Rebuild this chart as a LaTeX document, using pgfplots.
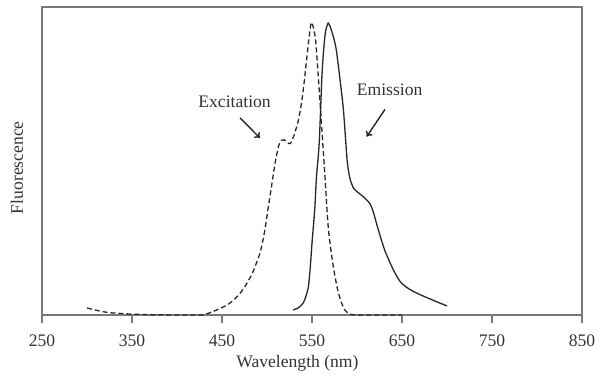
\documentclass[border=0pt]{standalone}
\usepackage{fontspec}
\setmainfont{Liberation Serif}
\usepackage{pgfplots}
\pgfplotsset{compat=1.18}
\usetikzlibrary{arrows.meta}
\definecolor{framegray}{HTML}{7A7A7A}
\definecolor{txt}{HTML}{333333}
\begin{document}
\fontsize{8.8}{10.5}\selectfont
\begin{tikzpicture}
\useasboundingbox (-21pt,-31.5pt) rectangle (279pt,157.5pt);
\begin{axis}[
  scale only axis,
  width=270pt, height=153.75pt,
  xmin=250, xmax=850, ymin=0, ymax=1.053,
  xtick={250,350,...,850},
  ytick=\empty,
  tick pos=bottom,
  xtick align=outside,
  major tick length=4pt,
  axis line style={draw=framegray, line width=1pt},
  every tick/.style={framegray, line width=0.8pt},
  /pgf/number format/assume math mode=true,
  /pgf/number format/1000 sep={},
  xticklabel style={text=txt, font=\fontsize{8.8}{10.5}\selectfont, yshift=-3pt},
  xlabel={Wavelength (nm)},
  ylabel={Fluorescence},
  xlabel style={at={(axis description cs:0.473,0)}, anchor=center, yshift=-24pt, text=txt, font=\fontsize{8.8}{10.5}\selectfont},
  ylabel style={at={([xshift=-12.6pt]axis description cs:0,0.479)}, anchor=center, text=txt, font=\fontsize{8.8}{10.5}\selectfont},
  clip=false,
]
\addplot[black!85, line width=0.65pt, dash pattern=on 2.5pt off 1.5pt, smooth, tension=0.4] coordinates {
(300,0.024) (312,0.015) (325,0.008) (350,0.003) (375,0.001) (400,0.000) (427,0.000)
(436,0.007) (444,0.017) (455,0.033) (463,0.051) (470,0.074) (477,0.105) (484,0.145)
(492,0.21) (497,0.28) (501,0.36) (505,0.44) (509,0.52) (513,0.58) (516,0.598)
(519,0.600) (523,0.590) (526,0.587) (530,0.615) (535,0.668) (539,0.74) (542,0.816)
(546,0.93) (549,1.0) (551,0.99) (554,0.942) (557,0.816) (562,0.588) (564.4,0.474)
(568,0.302) (572,0.20) (575.6,0.131) (579,0.08) (583,0.040) (587,0.015) (592,0.003)
(600,0.0) (625,0.0) (650,0.0)
};
\addplot[black!85, line width=0.65pt, smooth, tension=0.4] coordinates {
(529,0.017) (535,0.025) (540,0.040) (543,0.062) (546,0.097) (548,0.16) (550,0.246)
(553,0.36) (555,0.474) (558,0.588) (561,0.816) (563,0.91) (565,0.97) (568,1.0)
(571,0.98) (574,0.95) (577,0.908) (581,0.81) (585,0.70) (589,0.531) (592,0.47)
(596,0.435) (601,0.42) (607,0.405) (614,0.383) (618,0.354) (622,0.31) (626,0.268)
(631,0.22) (637,0.177) (642,0.145) (648,0.114) (655,0.095) (663,0.080) (675,0.063)
(688,0.046) (700,0.031)
};
\node[text=txt, font=\fontsize{8.8}{10.5}\selectfont] at (axis cs:464,0.729) {Excitation};
\node[text=txt, font=\fontsize{8.8}{10.5}\selectfont] at (axis cs:636.3,0.771) {Emission};
\draw[black!85, line width=0.7pt, -{To[length=2.5pt,width=4pt]}] (axis cs:470,0.675) -- (axis cs:492.2,0.606);
\draw[black!85, line width=0.7pt, -{To[length=2.5pt,width=4pt]}] (axis cs:631.1,0.704) -- (axis cs:610.8,0.611);
\end{axis}
\end{tikzpicture}
\end{document}
